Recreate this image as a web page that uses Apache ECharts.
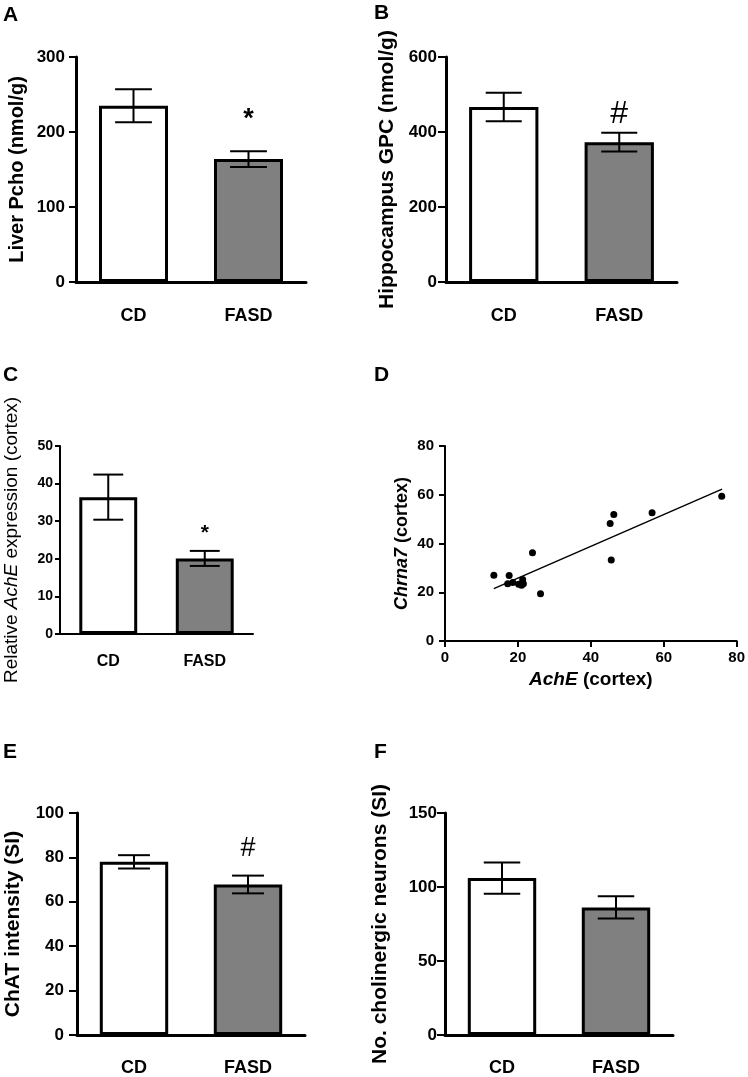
<!DOCTYPE html>
<html><head><meta charset="utf-8">
<script src="https://cdn.jsdelivr.net/npm/echarts@6/dist/echarts.min.js"></script>
<style>html,body{margin:0;padding:0;background:#fff}#c{width:748px;height:1077px}</style>
</head><body><div id="c"></div>
<script>
// ---------- data ----------
const groups = ['CD', 'FASD'];
const liverPchoMean = [235, 164];
const liverPchoSem = [22, 10.5];
const hippoGpcMean = [467, 373];
const hippoGpcSem = [38, 25];
const acheMean = [36.4, 20.1];
const acheSem = [6.0, 2.0];
const chatMean = [78.0, 67.8];
const chatSem = [3.0, 4.0];
const neuronsMean = [106, 86.2];
const neuronsSem = [10.6, 7.5];
const sigA = ['', '*'];
const sigB = ['', '#'];
const sigC = ['', '*'];
const sigE = ['', '#'];
const sigF = ['', ''];
const scatterAchE   = [13.4, 17.6, 17.2, 18.6, 20.2, 21.0, 21.3, 21.5, 24.0, 26.2, 45.3, 45.6, 46.3, 56.8, 75.9];
const scatterChrna7 = [27.0, 26.9, 23.5, 24.0, 23.3, 22.9, 25.2, 23.5, 36.2, 19.4, 48.2, 33.2, 51.9, 52.6, 59.4];
const fitLineX = [13.4, 76.0];
const fitLineY = [21.5, 62.3];

// ---------- build ----------
const FF = '"Liberation Sans", Arial, Helvetica, sans-serif';
const chart = echarts.init(document.getElementById('c'), null, {renderer: 'canvas'});
const option = {backgroundColor: '#fff', animation: false, grid: [], xAxis: [], yAxis: [], series: [], graphic: []};

function addBarPanel(cfg) {
  const gi = option.grid.length;
  option.grid.push({left: cfg.grid[0], top: cfg.grid[1], width: cfg.grid[2], height: cfg.grid[3], containLabel: false});
  option.xAxis.push({
    type: 'category', gridIndex: gi, data: groups,
    axisLine: {lineStyle: {color: '#000', width: cfg.axisW}},
    axisTick: {alignWithLabel: true, length: 8, lineStyle: {color: '#000', width: 2.5}},
    axisLabel: {color: '#000', fontFamily: FF, fontWeight: 'bold', fontSize: cfg.catFont, margin: cfg.catMargin},
    splitLine: {show: false}
  });
  option.yAxis.push({
    type: 'value', gridIndex: gi, min: 0, max: cfg.yMax, interval: cfg.yInt,
    name: cfg.yName, nameLocation: 'middle', nameGap: cfg.nameGap,
    nameTextStyle: Object.assign({color: '#000', fontFamily: FF, fontWeight: cfg.nameWeight || 'bold', fontSize: cfg.nameFont}, cfg.nameRich ? {rich: cfg.nameRich} : {}),
    axisLine: {show: true, lineStyle: {color: '#000', width: cfg.axisW}},
    axisTick: {show: true, length: cfg.tickLen, lineStyle: {color: '#000', width: 2}},
    axisLabel: {color: '#000', fontFamily: FF, fontWeight: 'bold', fontSize: cfg.tickFont, margin: cfg.tickMargin},
    splitLine: {show: false}
  });
  const means = cfg.means, sems = cfg.sems;
  option.series.push({
    type: 'bar', xAxisIndex: gi, yAxisIndex: gi, barWidth: cfg.barW,
    data: means.map((m, i) => ({value: m, itemStyle: {color: i === 0 ? '#ffffff' : '#808080', borderColor: '#000', borderWidth: 3}})),
    z: 2
  });
  option.series.push({
    type: 'custom', xAxisIndex: gi, yAxisIndex: gi, z: 5,
    data: means.map((m, i) => [i, m, sems[i]]),
    encode: {x: 0, y: 1},
    renderItem: (params, api) => {
      const x = api.value(0), m = api.value(1), s = api.value(2);
      const hi = api.coord([x, m + s]);
      const lo = api.coord([x, m - s]);
      const w = api.size([1, 0])[0] * cfg.cap;
      const st = {stroke: '#000', lineWidth: 2};
      return {type: 'group', children: [
        {type: 'line', shape: {x1: hi[0], y1: hi[1], x2: lo[0], y2: lo[1]}, style: st},
        {type: 'line', shape: {x1: hi[0] - w, y1: hi[1], x2: hi[0] + w, y2: hi[1]}, style: st},
        {type: 'line', shape: {x1: lo[0] - w, y1: lo[1], x2: lo[0] + w, y2: lo[1]}, style: st}
      ]};
    }
  });
  option.series.push({
    type: 'custom', xAxisIndex: gi, yAxisIndex: gi, z: 6,
    data: means.map((m, i) => [i, m + sems[i]]),
    encode: {x: 0, y: 1},
    renderItem: (params, api) => {
      const i = params.dataIndex;
      const p = api.coord([api.value(0), api.value(1)]);
      return {type: 'text', x: p[0], y: p[1] - cfg.sigOff,
        style: {text: cfg.sig[i], font: cfg.sigFont, fill: '#000', align: 'center', verticalAlign: 'middle'}};
    }
  });
}

addBarPanel({grid: [76, 57, 230, 225], means: liverPchoMean, sems: liverPchoSem, yMax: 300, yInt: 100,
  yName: 'Liver Pcho (nmol/g)', nameFont: 20, nameGap: 49, tickFont: 17, tickMargin: 11, tickLen: 7,
  catFont: 18, catMargin: 25, axisW: 3, barW: '60%', cap: 0.16, sig: sigA, sigOff: 32, sigFont: 'bold 27px ' + FF});
addBarPanel({grid: [446, 57, 231, 225], means: hippoGpcMean, sems: hippoGpcSem, yMax: 600, yInt: 200,
  yName: 'Hippocampus GPC (nmol/g)', nameFont: 21, nameGap: 48, tickFont: 17, tickMargin: 9, tickLen: 8,
  catFont: 18, catMargin: 25, axisW: 3, barW: '60%', cap: 0.156, sig: sigB, sigOff: 19, sigFont: '32px ' + FF});
addBarPanel({grid: [60, 446, 193, 188], means: acheMean, sems: acheSem, yMax: 50, yInt: 10,
  yName: '{n|Relative }{i|AchE}{n| expression (cortex)}', nameWeight: 'normal', nameFont: 19, nameGap: 39,
  nameRich: {n: {fontFamily: FF, fontSize: 19, color: '#000'}, i: {fontFamily: FF, fontSize: 19, fontStyle: 'italic', color: '#000'}},
  tickFont: 14, tickMargin: 7, tickLen: 5, catFont: 16, catMargin: 20, axisW: 2, barW: '60%', cap: 0.155,
  sig: sigC, sigOff: 18, sigFont: 'bold 21px ' + FF});
addBarPanel({grid: [77, 813, 228, 222], means: chatMean, sems: chatSem, yMax: 100, yInt: 20,
  yName: 'ChAT intensity (SI)', nameFont: 21, nameGap: 53, tickFont: 17, tickMargin: 13, tickLen: 8,
  catFont: 18, catMargin: 24, axisW: 3, barW: '60%', cap: 0.14, sig: sigE, sigOff: 27, sigFont: '27px ' + FF});
addBarPanel({grid: [445, 813, 228, 222], means: neuronsMean, sems: neuronsSem, yMax: 150, yInt: 50,
  yName: 'No. cholinergic neurons (SI)', nameFont: 21, nameGap: 54, tickFont: 17, tickMargin: 8, tickLen: 8,
  catFont: 18, catMargin: 24, axisW: 3, barW: '60%', cap: 0.16, sig: sigF, sigOff: 20, sigFont: '27px ' + FF});

// scatter panel D
(function () {
  const gi = option.grid.length;
  option.grid.push({left: 445, top: 446, width: 292, height: 195});
  option.xAxis.push({
    type: 'value', gridIndex: gi, min: 0, max: 80, interval: 20,
    name: '{i|AchE}{n| (cortex)}', nameLocation: 'middle', nameGap: 29,
    nameTextStyle: {rich: {n: {fontFamily: FF, fontSize: 19, fontWeight: 'bold', color: '#000'}, i: {fontFamily: FF, fontSize: 19, fontWeight: 'bold', fontStyle: 'italic', color: '#000'}}},
    axisLine: {lineStyle: {color: '#000', width: 2}},
    axisTick: {length: 6, lineStyle: {color: '#000', width: 2}},
    axisLabel: {color: '#000', fontFamily: FF, fontWeight: 'bold', fontSize: 15, margin: 9},
    splitLine: {show: false}
  });
  option.yAxis.push({
    type: 'value', gridIndex: gi, min: 0, max: 80, interval: 20,
    name: '{i|Chrna7}{n| (cortex)}', nameLocation: 'middle', nameGap: 34,
    nameTextStyle: {rich: {n: {fontFamily: FF, fontSize: 18, fontWeight: 'bold', color: '#000'}, i: {fontFamily: FF, fontSize: 18, fontWeight: 'bold', fontStyle: 'italic', color: '#000'}}},
    axisLine: {show: true, lineStyle: {color: '#000', width: 2}},
    axisTick: {show: true, length: 6, lineStyle: {color: '#000', width: 2}},
    axisLabel: {color: '#000', fontFamily: FF, fontWeight: 'bold', fontSize: 15, margin: 11},
    splitLine: {show: false}
  });
  option.series.push({
    type: 'scatter', xAxisIndex: gi, yAxisIndex: gi, symbolSize: 7,
    itemStyle: {color: '#000', opacity: 1},
    data: scatterAchE.map((x, i) => [x, scatterChrna7[i]])
  });
  option.series.push({
    type: 'line', xAxisIndex: gi, yAxisIndex: gi, showSymbol: false, symbol: 'none',
    lineStyle: {color: '#000', width: 1.5},
    data: fitLineX.map((x, i) => [x, fitLineY[i]])
  });
})();

// panel letters
const panelLetters = [['A', 3, 15], ['B', 374, 13], ['C', 3, 375], ['D', 374, 375], ['E', 3, 752], ['F', 374, 752]];
panelLetters.forEach(([t, x, y]) => {
  option.graphic.push({type: 'text', x: x, y: y, style: {text: t, font: 'bold 21px ' + FF, fill: '#000', align: 'left', verticalAlign: 'middle'}});
});

chart.setOption(option);
</script>
</body></html>
